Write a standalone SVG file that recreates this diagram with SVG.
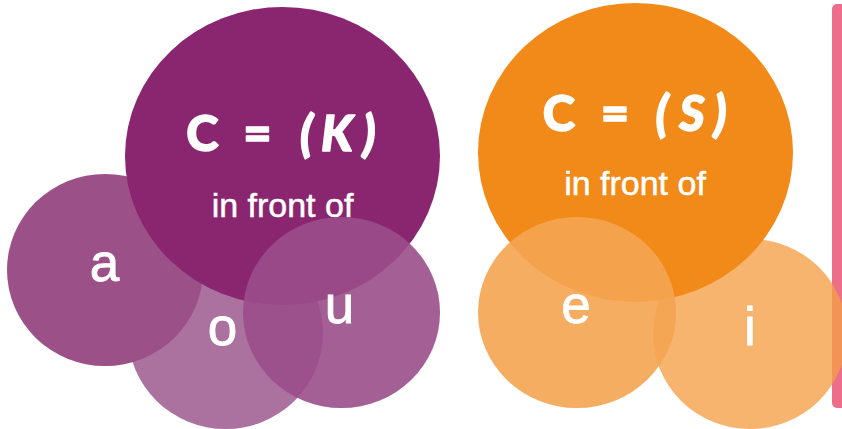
<svg xmlns="http://www.w3.org/2000/svg" width="842" height="429" viewBox="0 0 842 429">
<style>
.head{font-family:Lato,"Noto Sans","Liberation Sans",sans-serif;font-weight:900;font-size:49px;fill:#ffffff;stroke:#ffffff;stroke-width:1.4px;stroke-linejoin:round;text-anchor:middle}
.sub{font-family:"Liberation Sans",Arial,sans-serif;font-size:34px;fill:#ffffff;stroke:#ffffff;stroke-width:0.5px;text-anchor:middle}
.vow{font-family:"Liberation Sans",Arial,sans-serif;font-size:53px;fill:#ffffff;stroke:#ffffff;stroke-width:0.8px;text-anchor:middle}
.it{font-style:italic}
</style>
<rect width="842" height="429" fill="#ffffff"/>
<g id="connectors"></g>
<g id="k-group">
  <g id="node-o">
    <ellipse cx="225.5" cy="333" rx="97.5" ry="96" fill="#ab72a0"/>
    <text class="vow" x="222.5" y="345">o</text>
  </g>
  <g id="node-a">
    <ellipse cx="105" cy="270" rx="98" ry="96" fill="#9b5088"/>
    <text class="vow" x="104.5" y="281">a</text>
  </g>
  <g id="node-k">
    <ellipse cx="282.5" cy="156" rx="157.5" ry="149" fill="#8a2670"/>
    <text class="head" y="151"><tspan x="202.5">C</tspan><tspan x="257.5">=</tspan><tspan class="it" x="306.5">(</tspan><tspan class="it" x="337">K</tspan><tspan class="it" x="369">)</tspan></text>
    <text class="sub" x="282.5" y="217">in front of</text>
  </g>
  <g id="node-u">
    <ellipse cx="341.5" cy="312.5" rx="98.5" ry="95.5" fill="#9a4e89" fill-opacity="0.9"/>
    <text class="vow" x="339.5" y="323">u</text>
  </g>
</g>
<g id="s-group">
  <rect id="side-bar" x="832" y="4" width="20" height="404" rx="5" fill="#ec6e8b"/>
  <g id="node-i">
    <ellipse cx="750" cy="334" rx="97" ry="95" fill="#f49f46" fill-opacity="0.78"/>
    <text class="vow" x="750" y="345">i</text>
  </g>
  <g id="node-s">
    <ellipse cx="635.5" cy="152.5" rx="157.5" ry="149.5" fill="#f18a19"/>
    <text class="head" y="131"><tspan x="559">C</tspan><tspan x="615">=</tspan><tspan class="it" x="662">(</tspan><tspan class="it" x="692">S</tspan><tspan class="it" x="720">)</tspan></text>
    <text class="sub" x="635" y="195">in front of</text>
  </g>
  <g id="node-e">
    <ellipse cx="577" cy="312.5" rx="99" ry="95.5" fill="#f4a451" fill-opacity="0.9"/>
    <text class="vow" x="576" y="323">e</text>
  </g>
</g>
</svg>
